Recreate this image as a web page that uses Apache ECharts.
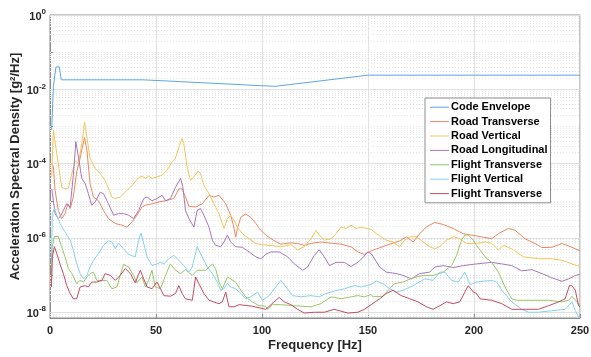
<!DOCTYPE html>
<html>
<head>
<meta charset="utf-8">
<script src="https://cdn.jsdelivr.net/npm/echarts@6/dist/echarts.min.js"></script>
<style>
  html, body { margin: 0; padding: 0; background: #fff; }
  #chart { width: 591px; height: 357px; }
</style>
</head>
<body>
<div id="chart"></div>
<script>
// each point is [frequency Hz, PSD g^2/Hz]
const codeEnvelope = [
  [0.8, 8e-4], [1.6, 0.012], [2.8, 0.04], [4.4, 0.04], [5.3, 0.018],
  [44, 0.018], [106, 0.012], [150, 0.024], [250, 0.024]
]

const roadTransverse = [
  [0.8, 1.0e-4], [1.6, 8.1e-5], [2.4, 1.9e-5], [3.9, 5.5e-6], [5.5, 3.3e-6], [7.1, 4.5e-6],
  [8.4, 8.3e-6], [9.5, 6.2e-6], [11.0, 1.26e-5], [12.6, 6.0e-5], [14.2, 1.4e-4], [15.3, 2.8e-4],
  [16.3, 5.0e-4], [17.4, 2.3e-4], [18.9, 2.9e-5], [20.5, 1.26e-5], [22.9, 1.0e-5], [25.2, 5.5e-6],
  [27.6, 3.3e-6], [30.8, 2.45e-6], [33.9, 2.2e-6], [36.3, 1.95e-6], [38.7, 2.7e-6], [41.0, 4.1e-6],
  [43.4, 6.8e-6], [45.0, 7.6e-6], [48.1, 8.3e-6], [51.3, 9.3e-6], [54.5, 1.0e-5], [58.4, 1.15e-5],
  [60.8, 2.1e-5], [62.3, 2.1e-5], [63.9, 1.26e-5], [65.5, 7.1e-6], [68.7, 6.8e-6], [71.8, 8.3e-6],
  [75.0, 1.4e-5], [77.3, 1.26e-5], [79.7, 1.4e-5], [82.9, 8.3e-6], [85.2, 4.1e-6], [86.5, 2.2e-6],
  [87.6, 1.05e-6], [88.4, 1.8e-6], [90.0, 3.6e-6], [92.3, 4.4e-6], [94.7, 3.6e-6], [97.1, 2.45e-6],
  [99.4, 1.6e-6], [101.8, 1.2e-6], [104.2, 9.5e-7], [108.9, 6.8e-7], [113.6, 7.4e-7], [116.8, 7.1e-7],
  [119.9, 6.3e-7], [123.1, 7.1e-7], [127.8, 7.8e-7], [132.6, 7.2e-7], [137.3, 6.8e-7], [142.0, 5.8e-7],
  [145.2, 4.2e-7], [148.3, 3.6e-7], [151.5, 4.5e-7], [158.6, 6.3e-7], [164.9, 8.3e-7], [168.1, 1.07e-6],
  [171.3, 7.8e-7], [174.4, 1.3e-6], [177.6, 2.0e-6], [181.5, 2.6e-6], [185.5, 2.3e-6], [190.2, 1.8e-6],
  [194.9, 1.3e-6], [203.6, 1.07e-6], [208.3, 9.5e-7], [211.5, 1.3e-6], [216.2, 1.8e-6], [219.4, 1.6e-6],
  [224.1, 9.5e-7], [228.8, 7.1e-7], [232.0, 5.5e-7], [236.7, 5.6e-7], [241.5, 7.1e-7], [246.2, 5.6e-7],
  [250, 4.5e-7]
]

const roadVertical = [
  [0.8, 4.4e-5], [1.6, 7.9e-4], [2.4, 7.2e-4], [5.5, 2.3e-5], [7.1, 2.1e-5], [8.7, 2.2e-5],
  [11.8, 1.2e-4], [13.4, 1.0e-4], [15.0, 3.5e-4], [16.3, 1.3e-3], [17.4, 5.2e-4], [18.9, 1.4e-4],
  [21.3, 7.4e-5], [23.7, 5.4e-5], [26.0, 3.5e-5], [29.2, 1.26e-5], [30.8, 1.15e-5], [33.1, 1.26e-5],
  [35.5, 1.7e-5], [38.7, 2.6e-5], [41.8, 4.2e-5], [43.4, 4.6e-5], [45.0, 4.0e-5], [46.5, 4.6e-5],
  [48.1, 4.0e-5], [50.5, 4.4e-5], [52.9, 4.9e-5], [55.2, 6.6e-5], [57.6, 1.12e-4], [59.2, 1.4e-4],
  [60.8, 2.8e-4], [62.3, 4.8e-4], [63.1, 3.5e-4], [64.7, 8.1e-5], [66.3, 3.5e-5], [67.9, 4.4e-5],
  [69.9, 6.3e-5], [71.0, 5.4e-5], [72.6, 2.6e-5], [75.0, 1.55e-5], [77.3, 8.3e-6], [79.7, 4.5e-6],
  [82.1, 1.8e-6], [82.9, 1.6e-6], [83.7, 3.3e-6], [85.2, 4.1e-6], [86.8, 3.0e-6], [88.4, 1.95e-6],
  [90.8, 1.3e-6], [93.9, 9.5e-7], [97.1, 7.1e-7], [100.2, 6.6e-7], [108.9, 5.8e-7], [113.6, 6.6e-7],
  [116.8, 4.8e-7], [119.9, 5.8e-7], [123.1, 9.5e-7], [125.5, 1.6e-6], [127.0, 1.2e-6], [129.4, 8.7e-7],
  [132.6, 9.5e-7], [134.9, 1.3e-6], [137.3, 1.95e-6], [139.7, 1.8e-6], [142.0, 2.2e-6], [144.4, 1.8e-6],
  [146.8, 1.95e-6], [149.1, 1.8e-6], [151.5, 1.7e-6], [153.9, 1.3e-6], [158.6, 8.7e-7], [161.8, 7.8e-7],
  [164.9, 5.8e-7], [167.3, 8.7e-7], [169.7, 1.07e-6], [172.8, 1.07e-6], [176.0, 7.8e-7], [179.1, 5.8e-7],
  [181.5, 5.1e-7], [183.9, 5.9e-7], [187.0, 8.7e-7], [190.2, 1.07e-6], [193.3, 9.5e-7], [196.5, 7.1e-7],
  [201.2, 7.1e-7], [205.2, 7.8e-7], [208.3, 7.2e-7], [211.5, 4.8e-7], [213.9, 6.3e-7], [217.8, 5.1e-7],
  [221.0, 3.8e-7], [223.3, 3.1e-7], [230.4, 2.75e-7], [236.7, 2.75e-7], [241.5, 2.5e-7], [246.2, 2.0e-7],
  [250, 1.7e-7]
]

const roadLongitudinal = [
  [0.8, 2.1e-5], [1.6, 1.0e-5], [2.4, 4.5e-6], [3.9, 3.3e-6], [5.2, 4.1e-6], [6.3, 5.5e-6],
  [7.9, 8.3e-6], [9.5, 6.8e-6], [11.0, 4.9e-5], [12.2, 3.9e-4], [13.4, 1.5e-4], [15.0, 4.0e-5],
  [16.6, 2.9e-5], [18.1, 1.55e-5], [19.7, 7.6e-6], [21.3, 9.3e-6], [23.7, 1.7e-5], [25.2, 1.55e-5],
  [27.6, 8.3e-6], [30.0, 4.1e-6], [32.3, 4.5e-6], [34.7, 4.5e-6], [37.1, 4.1e-6], [39.4, 3.3e-6],
  [41.8, 5.5e-6], [44.2, 1.15e-5], [45.8, 1.26e-5], [48.1, 1.0e-5], [50.5, 1.15e-5], [52.9, 1.4e-5],
  [54.5, 1.0e-5], [56.8, 1.15e-5], [59.2, 2.3e-5], [61.6, 4.0e-5], [62.7, 2.3e-5], [63.9, 5.5e-6],
  [65.5, 3.3e-6], [67.9, 1.95e-6], [69.4, 5.5e-6], [71.0, 6.2e-6], [72.6, 4.1e-6], [75.0, 1.95e-6],
  [76.6, 8.7e-7], [78.1, 6.3e-7], [80.5, 5.8e-7], [82.1, 7.8e-7], [83.7, 1.2e-6], [85.2, 7.8e-7],
  [87.6, 5.8e-7], [90.8, 5.6e-7], [93.9, 4.2e-7], [97.1, 3.1e-7], [99.4, 2.75e-7], [101.8, 3.6e-7],
  [104.2, 4.2e-7], [108.1, 4.2e-7], [112.1, 3.1e-7], [115.2, 2.0e-7], [119.2, 1.35e-7], [121.5, 1.65e-7],
  [124.7, 3.4e-7], [127.0, 4.8e-7], [129.4, 3.1e-7], [131.8, 1.8e-7], [134.9, 2.2e-7], [138.9, 2.2e-7],
  [142.0, 1.7e-7], [145.2, 2.2e-7], [147.6, 2.95e-7], [149.9, 4.2e-7], [151.5, 3.8e-7], [155.5, 1.65e-7],
  [158.6, 1.2e-7], [163.4, 1.1e-7], [166.5, 9.8e-8], [170.5, 7.9e-8], [174.4, 1.1e-7], [179.1, 1.2e-7],
  [181.5, 1.65e-7], [185.5, 1.8e-7], [190.2, 1.6e-7], [194.9, 1.8e-7], [201.2, 2.0e-7], [208.3, 2.2e-7],
  [213.1, 2.0e-7], [217.8, 1.8e-7], [222.5, 1.3e-7], [227.3, 1.4e-7], [232.0, 1.1e-7], [236.7, 8.5e-8],
  [241.5, 6.8e-8], [244.6, 7.9e-8], [247.8, 9.8e-8], [250, 1.05e-7]
]

const flightTransverse = [
  [0.7, 7.2e-8], [1.1, 5.8e-7], [2.1, 1.1e-6], [3.9, 1.1e-6], [5.5, 5.8e-7], [7.1, 3.1e-7],
  [8.7, 1.5e-7], [10.3, 1.1e-7], [12.6, 5.9e-8], [14.2, 7.2e-8], [15.8, 6.5e-8], [17.4, 8.9e-8],
  [18.9, 1.1e-7], [20.5, 1.2e-7], [22.1, 7.2e-8], [26.8, 7.2e-8], [29.2, 4.3e-8], [31.6, 4.8e-8],
  [33.1, 9.8e-8], [34.7, 1.95e-7], [37.1, 1.65e-7], [39.4, 9.8e-8], [41.0, 6.2e-8], [43.4, 8.9e-8],
  [45.0, 4.8e-8], [46.5, 7.2e-8], [48.1, 1.35e-7], [49.7, 4.8e-8], [52.1, 4.3e-8], [54.5, 9.8e-8],
  [56.8, 2.0e-7], [59.2, 1.35e-7], [61.6, 1.1e-7], [63.9, 1.4e-7], [67.1, 9.8e-8], [69.4, 1.35e-7],
  [73.4, 1.35e-7], [76.6, 2.0e-7], [78.1, 1.5e-7], [79.7, 6.5e-8], [81.3, 4.3e-8], [83.7, 8.9e-8],
  [87.6, 6.5e-8], [90.0, 3.9e-8], [92.3, 2.6e-8], [95.5, 1.9e-8], [98.6, 1.5e-8], [101.8, 1.45e-8],
  [102.6, 1.2e-8], [105.0, 1.6e-8], [108.9, 1.6e-8], [115.2, 1.5e-8], [123.1, 1.4e-8], [127.8, 1.7e-8],
  [132.6, 2.6e-8], [137.3, 2.3e-8], [142.0, 2.6e-8], [145.2, 2.8e-8], [148.3, 2.6e-8], [151.5, 3.0e-8],
  [152.3, 2.6e-8], [157.0, 2.7e-8], [160.2, 4.3e-8], [162.5, 5.9e-8], [166.5, 6.5e-8], [171.3, 8.5e-8],
  [176.0, 9.8e-8], [180.7, 9.8e-8], [185.5, 1.2e-7], [189.4, 1.8e-7], [191.8, 3.4e-7], [194.1, 8.7e-7],
  [195.7, 1.2e-6], [197.3, 1.2e-6], [199.7, 8.7e-7], [201.2, 6.3e-7], [205.2, 3.1e-7], [208.3, 2.2e-7],
  [211.5, 1.2e-7], [214.6, 4.8e-8], [217.8, 2.3e-8], [220.2, 2.1e-8], [227.3, 2.1e-8], [235.2, 2.1e-8],
  [241.5, 1.9e-8], [244.6, 2.1e-8], [246.2, 2.7e-8], [248.6, 1.9e-8], [250, 1.5e-8]
]

const flightVertical = [
  [0.7, 2.5e-7], [1.1, 4.5e-6], [2.1, 6.2e-6], [3.2, 4.1e-6], [4.7, 2.45e-6], [7.1, 1.45e-6],
  [9.5, 8.7e-7], [11.0, 4.7e-7], [12.6, 2.0e-7], [14.2, 1.1e-7], [15.8, 7.9e-8], [17.4, 9.8e-8],
  [18.9, 1.65e-7], [20.5, 2.5e-7], [22.9, 3.8e-7], [25.2, 6.3e-7], [27.6, 8.3e-7], [29.2, 7.8e-7],
  [30.8, 5.1e-7], [32.3, 7.2e-7], [34.7, 5.1e-7], [37.1, 3.6e-7], [40.2, 3.1e-7], [41.8, 8.7e-7],
  [42.9, 1.35e-6], [44.2, 7.1e-7], [45.8, 3.1e-7], [48.1, 1.8e-7], [50.5, 2.0e-7], [52.1, 2.2e-7],
  [53.7, 2.0e-7], [56.0, 2.75e-7], [58.4, 3.4e-7], [60.8, 2.5e-7], [63.1, 1.8e-7], [65.5, 1.2e-7],
  [67.1, 1.65e-7], [69.4, 5.8e-7], [71.8, 3.1e-7], [74.2, 1.65e-7], [76.6, 1.1e-7], [78.9, 6.5e-8],
  [80.5, 3.9e-8], [82.1, 4.3e-8], [83.7, 5.9e-8], [85.2, 4.8e-8], [87.6, 4.3e-8], [90.0, 3.2e-8],
  [92.3, 2.3e-8], [94.7, 2.6e-8], [97.9, 3.5e-8], [100.2, 2.1e-8], [101.0, 2.1e-8], [103.4, 2.8e-8],
  [106.5, 4.8e-8], [108.9, 7.2e-8], [111.3, 4.8e-8], [114.4, 2.8e-8], [118.4, 2.6e-8], [123.1, 2.8e-8],
  [127.0, 2.6e-8], [130.2, 3.2e-8], [134.1, 3.7e-8], [138.9, 4.3e-8], [143.6, 5.2e-8], [146.8, 4.8e-8],
  [151.5, 5.6e-8], [153.9, 6.9e-8], [157.0, 5.9e-8], [160.2, 4.3e-8], [163.4, 3.5e-8], [166.5, 3.9e-8],
  [171.3, 5.2e-8], [176.8, 7.9e-8], [180.7, 7.2e-8], [183.9, 1.2e-7], [186.2, 1.2e-7], [189.4, 7.2e-8],
  [192.6, 6.5e-8], [195.7, 1.2e-7], [198.1, 5.5e-8], [201.2, 6.5e-8], [205.2, 6.9e-8], [208.3, 7.2e-8],
  [210.7, 6.5e-8], [213.1, 3.9e-8], [217.8, 1.9e-8], [222.5, 1.2e-8], [225.7, 1.0e-8], [230.4, 1.0e-8],
  [236.7, 1.1e-8], [243.0, 1.2e-8], [246.2, 1.9e-8], [247.8, 1.1e-8], [249.3, 7.4e-9], [250, 7e-9]
]

const flightTransverse2 = [
  [0.7, 4.8e-8], [1.1, 3.1e-7], [2.1, 5.8e-7], [3.2, 3.8e-7], [4.7, 2.0e-7], [6.3, 1.1e-7],
  [7.9, 5.2e-8], [9.5, 3.2e-8], [11.0, 2.3e-8], [12.6, 2.3e-8], [14.2, 4.8e-8], [16.6, 5.2e-8],
  [18.1, 4.8e-8], [19.7, 6.5e-8], [22.1, 6.5e-8], [24.5, 7.2e-8], [26.0, 1.1e-7], [28.4, 9.8e-8],
  [30.8, 7.2e-8], [33.1, 9.8e-8], [35.5, 1.5e-7], [37.9, 1.1e-7], [40.2, 6.2e-8], [42.6, 1.35e-7],
  [44.2, 7.9e-8], [45.8, 4.8e-8], [48.1, 4.3e-8], [50.5, 6.5e-8], [52.1, 4.3e-8], [53.7, 2.8e-8],
  [56.8, 2.7e-8], [59.2, 3.2e-8], [60.8, 5.2e-8], [62.3, 3.2e-8], [63.9, 2.3e-8], [67.1, 2.1e-8],
  [68.7, 8.9e-8], [70.2, 5.9e-8], [72.6, 3.2e-8], [75.0, 2.1e-8], [79.7, 1.7e-8], [81.3, 1.9e-8],
  [82.9, 3.5e-8], [84.4, 1.4e-8], [86.8, 1.4e-8], [89.2, 1.6e-8], [95.5, 1.45e-8], [101.8, 1.2e-8],
  [105.7, 1.9e-8], [108.1, 2.5e-8], [110.5, 1.9e-8], [113.6, 1.6e-8], [116.8, 1.2e-8], [119.9, 9.5e-9],
  [124.7, 1.0e-8], [129.4, 1.0e-8], [134.1, 1.2e-8], [140.5, 9.5e-9], [145.2, 1.0e-8], [148.3, 1.2e-8],
  [151.5, 1.6e-8], [155.5, 2.3e-8], [158.6, 3.2e-8], [161.8, 3.9e-8], [165.7, 2.8e-8], [169.7, 2.3e-8],
  [173.6, 1.9e-8], [177.6, 1.4e-8], [180.7, 1.2e-8], [183.9, 1.5e-8], [187.0, 1.9e-8], [190.2, 1.7e-8],
  [193.3, 1.9e-8], [195.7, 3.5e-8], [197.3, 5.2e-8], [199.7, 3.5e-8], [201.2, 3.2e-8], [202.8, 2.3e-8],
  [208.3, 2.1e-8], [213.1, 1.7e-8], [217.8, 1.2e-8], [224.1, 1.2e-8], [230.4, 1.2e-8], [235.2, 1.5e-8],
  [239.9, 1.9e-8], [243.0, 2.3e-8], [245.0, 5.2e-8], [246.2, 5.2e-8], [247.8, 3.9e-8], [249.3, 1.5e-8],
  [250, 1.4e-8]
]

const seriesNames = [
  'Code Envelope', 'Road Transverse', 'Road Vertical', 'Road Longitudinal',
  'Flight Transverse', 'Flight Vertical', 'Flight Transverse '
]
const seriesData = [
  codeEnvelope, roadTransverse, roadVertical, roadLongitudinal,
  flightTransverse, flightVertical, flightTransverse2
]
const seriesColors = ['#5ea6dc', '#ec8660', '#f5c455', '#a676bd', '#98c566', '#86d0f3', '#c24b63']

const xTicks = [0, 50, 100, 150, 200, 250]
const yMin = 7e-9
const yMax = 1
const yMajor = [1e-8, 1e-6, 1e-4, 1e-2, 1]

// dotted minor grid, every k*10^n not on a labelled decade
const yMinor = []
for (let e = -9; e < 0; e++) {
  for (let k = 1; k <= 9; k++) {
    const v = k * Math.pow(10, e)
    if (v > yMin * 1.01 && v < yMax && !(k === 1 && e % 2 === 0)) yMinor.push(v)
  }
}

const axisColor = '#8c8c8c'
const textColor = '#262626'

function yLabel(value) {
  const p = Math.log10(value)
  const e = Math.round(p)
  if (Math.abs(p - e) > 0.01 || e % 2 !== 0) return ''
  return '{b|10}{s|' + e + '}'
}

const chart = echarts.init(document.getElementById('chart'), null, { renderer: 'canvas' })

const gridSeries = {
  name: 'grid',
  type: 'line',
  data: [],
  silent: true,
  z: 1,
  markLine: {
    z: 1,
    silent: true,
    symbol: 'none',
    precision: 12,
    animation: false,
    label: { show: false },
    data: yMinor.map(v => ({ yAxis: v, lineStyle: { color: '#e6e6e6', type: [1, 2], width: 1 } }))
      .concat(yMajor.map(v => ({ yAxis: v, lineStyle: { color: '#e0e0e0', type: 'solid', width: 1 } })))
  }
}

chart.setOption({
  animation: false,
  textStyle: { fontFamily: 'Liberation Sans, Arial, sans-serif' },
  grid: {
    left: 50,
    right: 11,
    top: 15,
    bottom: 39,
    containLabel: false,
    outerBoundsMode: 'none',
    show: true,
    borderColor: axisColor,
    borderWidth: 1
  },
  legend: {
    data: seriesNames,
    orient: 'vertical',
    left: 425,
    top: 98,
    z: 10,
    padding: [2, 3, 2, 5],
    itemGap: 0,
    icon: 'rect',
    itemWidth: 19,
    itemHeight: 1,
    backgroundColor: '#fff',
    borderColor: '#8c8c8c',
    borderWidth: 1,
    borderRadius: 0,
    textStyle: {
      fontSize: 11,
      fontWeight: 'bold',
      color: '#000',
      lineHeight: 14.4,
      padding: [0, 0, 0, -3]
    }
  },
  xAxis: {
    type: 'value',
    min: xTicks[0],
    max: xTicks[xTicks.length - 1],
    interval: 50,
    name: 'Frequency [Hz]',
    nameLocation: 'middle',
    nameGap: 21,
    nameMoveOverlap: false,
    nameTextStyle: { fontSize: 13, fontWeight: 'bold', color: textColor },
    axisLine: { show: true, lineStyle: { color: axisColor } },
    axisTick: { show: true, inside: true, length: 4, lineStyle: { color: axisColor } },
    axisLabel: { fontSize: 11, fontWeight: 'bold', color: textColor, margin: 7 },
    splitLine: { show: true, lineStyle: { color: '#e0e0e0', width: 1 } }
  },
  yAxis: {
    type: 'log',
    logBase: 10,
    min: yMin,
    max: yMax,
    name: 'Acceleration Spectral Density [g²/Hz]',
    nameLocation: 'middle',
    nameGap: 28,
    nameMoveOverlap: false,
    nameTextStyle: { fontSize: 13, fontWeight: 'bold', color: textColor },
    axisLine: { show: true, lineStyle: { color: axisColor } },
    axisTick: { show: true, inside: true, length: 4, lineStyle: { color: axisColor } },
    axisLabel: {
      margin: 4,
      showMinLabel: false,
      formatter: yLabel,
      rich: {
        b: { fontSize: 11, fontWeight: 'bold', color: textColor, verticalAlign: 'bottom', lineHeight: 14 },
        s: { fontSize: 8, fontWeight: 'bold', color: textColor, verticalAlign: 'top', lineHeight: 14 }
      }
    },
    splitLine: { show: false }
  },
  series: [gridSeries].concat(seriesNames.map((name, i) => ({
    name: name,
    type: 'line',
    data: seriesData[i],
    z: 2,
    symbol: 'none',
    smooth: false,
    clip: true,
    lineStyle: { width: 1, color: seriesColors[i] },
    itemStyle: { color: seriesColors[i] }
  })))
})
</script>
</body>
</html>
